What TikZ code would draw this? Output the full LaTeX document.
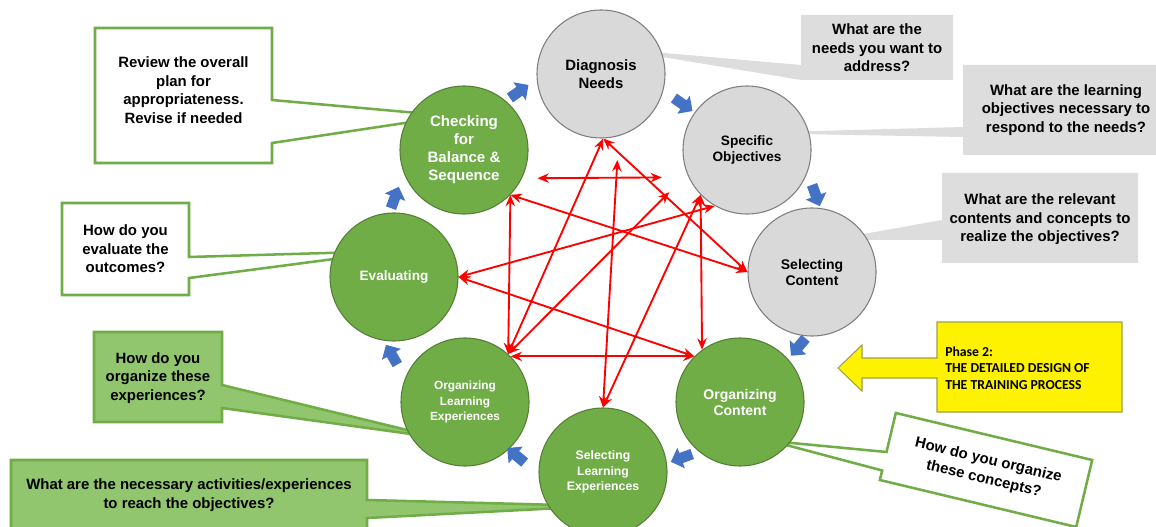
\documentclass[tikz,border=0pt]{standalone}
\usepackage{fontspec}
\setmainfont{Liberation Sans}
\newfontfamily\calibfont{Carlito}
\usetikzlibrary{arrows.meta,shapes.arrows}
\definecolor{grn}{RGB}{112,173,71}
\definecolor{grnd}{RGB}{84,128,54}
\definecolor{grnf}{RGB}{146,198,110}
\definecolor{gcircf}{RGB}{217,217,217}
\definecolor{gbord}{RGB}{127,127,127}
\definecolor{gboxf}{RGB}{221,221,221}
\definecolor{bluea}{RGB}{68,114,196}
\definecolor{ybord}{RGB}{160,160,70}
\newcommand\myfs[2]{\fontsize{#1}{#2}\selectfont\bfseries}
\begin{document}
\begin{tikzpicture}[x=0.75pt,y=-0.75pt,
  circ/.style={circle,minimum size=96pt,inner sep=0pt,line width=0.8pt,align=center},
  graycirc/.style={circ,fill=gcircf,draw=gbord,text=black},
  greencirc/.style={circ,fill=grn,draw=grnd,text=white},
  wcall/.style={fill=white,draw=grn,line width=1.9pt,line join=miter},
  gcall/.style={fill=grnf,draw=grn,line width=1.9pt,line join=miter},
  graycall/.style={fill=gboxf},
  ctext/.style={align=center,inner sep=0pt,font=\myfs{11.2}{13.9},text=black},
  ybox/.style={fill=yellow,draw=ybord,line width=0.8pt,line join=miter},
  ytext/.style={align=left,inner sep=0pt,font={\calibfont\bfseries\fontsize{10.3}{12.4}\selectfont},text=black},
  redarr/.style={draw=red,line width=1.4pt,<->,>={Stealth[length=8.5pt,width=7pt]}},
  bluearr/.style={single arrow,fill=bluea,draw=none,minimum height=17pt,inner sep=3.8pt,
    single arrow head extend=4.2pt,single arrow head indent=0pt,anchor=center}
]
\useasboundingbox (0,0) rectangle (1156,527);
\clip (0,0) rectangle (1156,527);
\fill[white] (0,0) rectangle (1156,527);

% callouts (left)
\draw[wcall] (95,28) -- (272,28) -- (272,100) -- (451,116) -- (272,143) -- (272,163) -- (95,163) -- cycle;
\node[ctext] (t1) at (183.5,90) {Review the overall\\plan for\\appropriateness.\\Revise if needed};

\draw[wcall] (62,203) -- (189,203) -- (189,257) -- (395,251) -- (189,278) -- (189,295) -- (62,295) -- cycle;
\node[ctext] (t2) at (125.5,249) {How do you\\evaluate the\\outcomes?};

\draw[gcall] (94,332) -- (222,332) -- (222,385) -- (440,438) -- (222,408) -- (222,422) -- (94,422) -- cycle;
\node[ctext] (t3) at (158,378) {How do you\\organize these\\experiences?};

\draw[gcall] (11,460) -- (367,460) -- (367,500) -- (600,506) -- (367,518) -- (367,545) -- (11,545) -- cycle;
\node[ctext] (t4) at (189,495) {What are the necessary activities/experiences\\to reach the objectives?};

% callouts (right, gray)
\fill[graycall] (801,15) -- (953,15) -- (953,80) -- (801,80) -- (608,48) -- (801,65) -- cycle;
\node[ctext] (t5) at (877,48) {What are the\\needs you want to\\address?};

\fill[graycall] (963,65) -- (1170,65) -- (1170,155) -- (963,155) -- (963,137) -- (745,133) -- (963,127) -- cycle;
\node[ctext] (t6) at (1066,110) {What are the learning\\objectives necessary to\\respond to the needs?};

\fill[graycall] (942,173) -- (1138,173) -- (1138,263) -- (942,263) -- (942,240) -- (830,240) -- (942,220) -- cycle;
\node[ctext] (t7) at (1040,219.5) {What are the relevant\\contents and concepts to\\realize the objectives?};

% rotated callout
\draw[wcall] (895.8,413) -- (1092.2,460) -- (1076.2,527) -- (879.8,480) -- (882.2,470.5) -- (771,441) -- (886.5,452) -- cycle;
\node[ctext,font=\myfs{11.2}{14.6},rotate=-13.5] (t8) at (986,470) {How do you organize\\these concepts?};

% yellow phase box with arrow
\draw[ybox] (937,322) -- (1122,322) -- (1122,412) -- (937,412) -- (937,378) -- (862,378) -- (862,391) -- (838,368) -- (862,345) -- (862,358) -- (937,358) -- cycle;
\node[ytext,anchor=west] (t9) at (945,368) {Phase 2:\\THE DETAILED DESIGN OF\\THE TRAINING PROCESS};

% circles
\node[graycirc,font=\myfs{11.2}{13.5}] (diag) at (601,74) {Diagnosis\\Needs};
\node[graycirc,font=\myfs{10.2}{12.7}] (spec) at (747,150) {Specific\\Objectives};
\node[graycirc,font=\myfs{10.5}{12}] (selc) at (812,272) {Selecting\\Content};
\node[greencirc,font=\myfs{10.5}{12}] (orgc) at (740,402) {Organizing\\Content};
\node[greencirc,font=\myfs{9.2}{11.5}] (sele) at (603,472) {Selecting\\Learning\\Experiences};
\node[greencirc,font=\myfs{8.9}{11.5}] (orgl) at (465,402) {Organizing\\Learning\\Experiences};
\node[greencirc,font=\myfs{10.2}{12}] (eval) at (394,277) {Evaluating};
\node[greencirc,font=\myfs{11.3}{13.5}] (check) at (464,150) {Checking\\for\\Balance \&\\Sequence};

% red relations
\draw[redarr] (diag.-88) -- (orgl.48);
\draw[redarr] (diag.-88) -- (selc.180);
\draw[redarr,shorten <=18pt] (diag.-74) -- (sele.90);
\draw[redarr,shorten <=11.6pt,shorten >=20pt] (check.-26) -- (spec.205);
\draw[redarr] (check.-44) -- (selc.180);
\draw[redarr] (check.-44) -- (orgl.48);
\draw[redarr] (eval.0) -- (spec.-120);
\draw[redarr] (eval.0) -- (orgc.135);
\draw[redarr,shorten <=19pt] (spec.202) -- (orgl.48);
\draw[redarr] (spec.224) -- (orgc.126);
\draw[redarr] (spec.224) -- (sele.90);
\draw[redarr] (orgl.45) -- (orgc.135);

% blue cycle arrows
\node[bluearr,rotate=35] (b1) at (517,93) {};
\node[bluearr,rotate=-35] (b2) at (681,103) {};
\node[bluearr,rotate=-70] (b3) at (815,193) {};
\node[bluearr,rotate=-130] (b4) at (800,345) {};
\node[bluearr,rotate=-160] (b5) at (684,457) {};
\node[bluearr,rotate=140] (b6) at (518,457) {};
\node[bluearr,rotate=120] (b7) at (393,357) {};
\node[bluearr,rotate=70] (b8) at (394,200) {};
\end{tikzpicture}
\end{document}
